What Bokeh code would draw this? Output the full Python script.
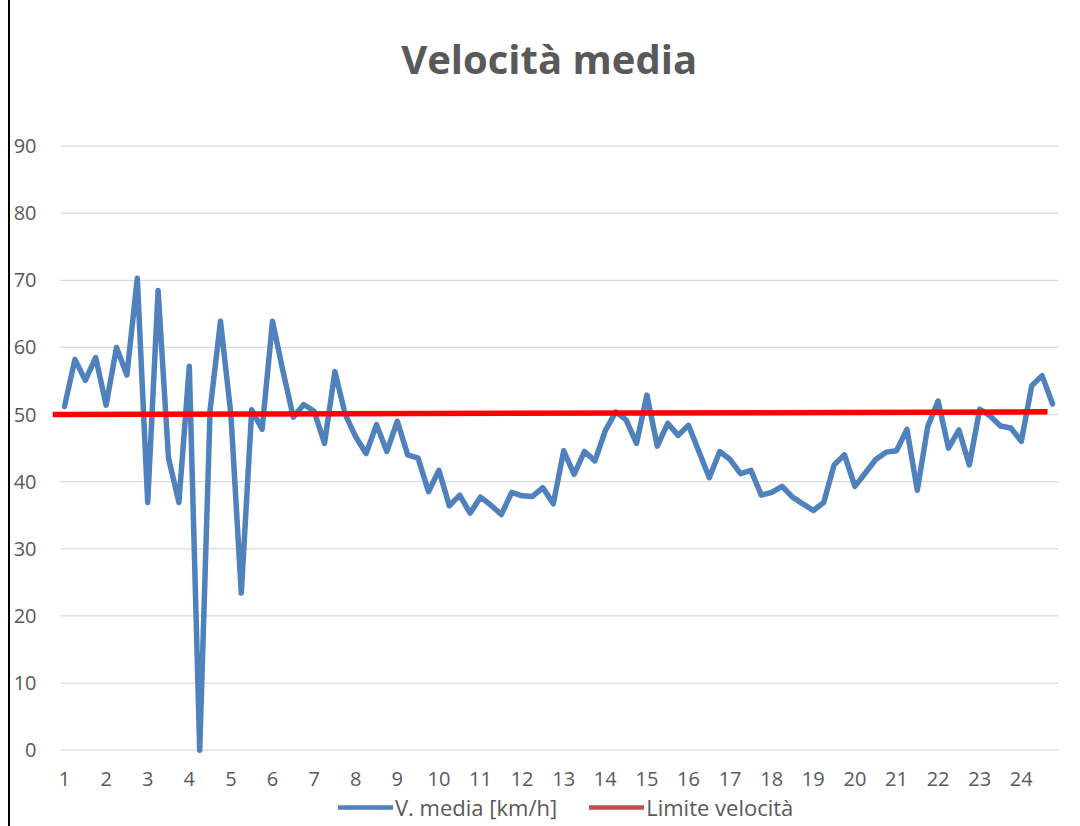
from bokeh.plotting import figure
from bokeh.layouts import column
from bokeh.models import FixedTicker, Legend, LegendItem, Range1d, Label
from bokeh.embed import file_html
from bokeh.resources import INLINE

# ---- data -------------------------------------------------------------
ore_labels = [str(h) for h in range(1, 25)]          # category tick labels (hours)
slot_per_ora = 4                                      # 15-minute slots per hour

velocita = [
    51.2, 58.2, 55.1, 58.5, 51.4, 60.0, 55.9, 70.3,
    36.9, 68.5, 43.5, 36.9, 57.2, 0.0, 50.7, 63.9,
    50.0, 23.4, 50.7, 47.8, 63.9, 56.5, 49.6, 51.5,
    50.5, 45.7, 56.4, 50.0, 46.7, 44.2, 48.5, 44.5,
    49.0, 44.0, 43.5, 38.5, 41.7, 36.4, 38.0, 35.3,
    37.7, 36.5, 35.1, 38.4, 37.9, 37.8, 39.1, 36.7,
    44.6, 41.1, 44.5, 43.1, 47.6, 50.4, 49.2, 45.7,
    52.9, 45.3, 48.7, 46.9, 48.4, 44.5, 40.6, 44.5,
    43.3, 41.2, 41.7, 38.0, 38.4, 39.3, 37.7, 36.7,
    35.7, 36.9, 42.5, 44.0, 39.3, 41.3, 43.3, 44.4,
    44.6, 47.8, 38.7, 48.2, 52.0, 45.0, 47.7, 42.5,
    50.8, 49.8, 48.3, 48.0, 46.0, 54.3, 55.8, 51.6,
]

limite_x = [0.71, 24.63]
limite_y = [50.0, 50.4]

y_ticks = [0, 10, 20, 30, 40, 50, 60, 70, 80, 90]

titolo = "Velocità media"

# category positions: slot i sits at hour 1 + i/4
x_slot = [1 + i / slot_per_ora for i in range(len(velocita))]
x_ticks = list(range(1, 25))

GREY_TXT = "#595959"
BLUE = "#4F81BD"
FONT = "Open Sans"
NAN = float("nan")

p = figure(
    width=1070, height=790,
    output_backend="svg", toolbar_location=None,
    x_range=Range1d(0.7115, 24.894), y_range=Range1d(-0.5, 110.5),
    min_border_left=42, min_border_right=22,
    min_border_top=0, min_border_bottom=45,
)

p.outline_line_color = None
p.xgrid.visible = False
p.ygrid.visible = False

# horizontal gridlines (plot-area width, starting at the category area)
gx0 = 0.904
gx1 = 24.894
p.segment(x0=[gx0] * len(y_ticks), x1=[gx1] * len(y_ticks), y0=y_ticks, y1=y_ticks,
          line_color="#D9D9D9", line_width=1.3)

p.line(x_slot, velocita, line_color=BLUE, line_width=5.5,
       line_join="round", line_cap="round")
p.line(limite_x, limite_y, line_color="#FF0000", line_width=5.5)

# chart title, centred above the plot area
p.add_layout(Label(x=12.65, y=103.1, text=titolo, text_align="center",
                   text_baseline="middle", text_font=FONT, text_font_size="40px",
                   text_font_style="bold", text_color=GREY_TXT))

# axes
for ax in (p.xaxis[0], p.yaxis[0]):
    ax.axis_line_color = None
    ax.major_tick_line_color = None
    ax.minor_tick_line_color = None
    ax.major_tick_out = 0
    ax.major_label_text_font = FONT
    ax.major_label_text_font_size = "20px"
    ax.major_label_text_color = GREY_TXT

p.xaxis.ticker = FixedTicker(ticks=x_ticks)
p.xaxis.major_label_overrides = {t: lab for t, lab in zip(x_ticks, ore_labels)}
p.xaxis.major_label_standoff = 18
p.yaxis.ticker = FixedTicker(ticks=y_ticks)
p.yaxis.major_label_standoff = 16

# ---- legend strip below the chart ------------------------------------
pl = figure(
    width=1070, height=36,
    output_backend="svg", toolbar_location=None,
    x_range=Range1d(0, 1), y_range=Range1d(0, 1),
    x_axis_location=None, y_axis_location=None,
    min_border=0,
    background_fill_color=None, border_fill_color=None,
)
pl.styles = {"margin-top": "-8px"}
pl.outline_line_color = None
pl.grid.visible = False
leg_blue = pl.line(x=[NAN], y=[NAN], line_color=BLUE, line_width=4.5, line_cap="round")
leg_red = pl.line(x=[NAN], y=[NAN], line_color="#C0504D", line_width=4.5, line_cap="round")

legend = Legend(
    items=[LegendItem(label="V. media [km/h]", renderers=[leg_blue]),
           LegendItem(label="Limite velocità", renderers=[leg_red])],
    orientation="horizontal", location=(286, 4),
    border_line_color=None, background_fill_alpha=0,
    glyph_width=55, glyph_height=20, label_standoff=2, spacing=32,
    padding=0, margin=0,
    label_text_font=FONT, label_text_font_size="22px", label_text_color=GREY_TXT,
)
pl.add_layout(legend)

lay = column(p, pl, spacing=0,
             styles={"border-left": "2px solid black",
                     "margin-left": "8px", "padding-top": "8px"})

open("out.html", "w").write(file_html(lay, INLINE))
